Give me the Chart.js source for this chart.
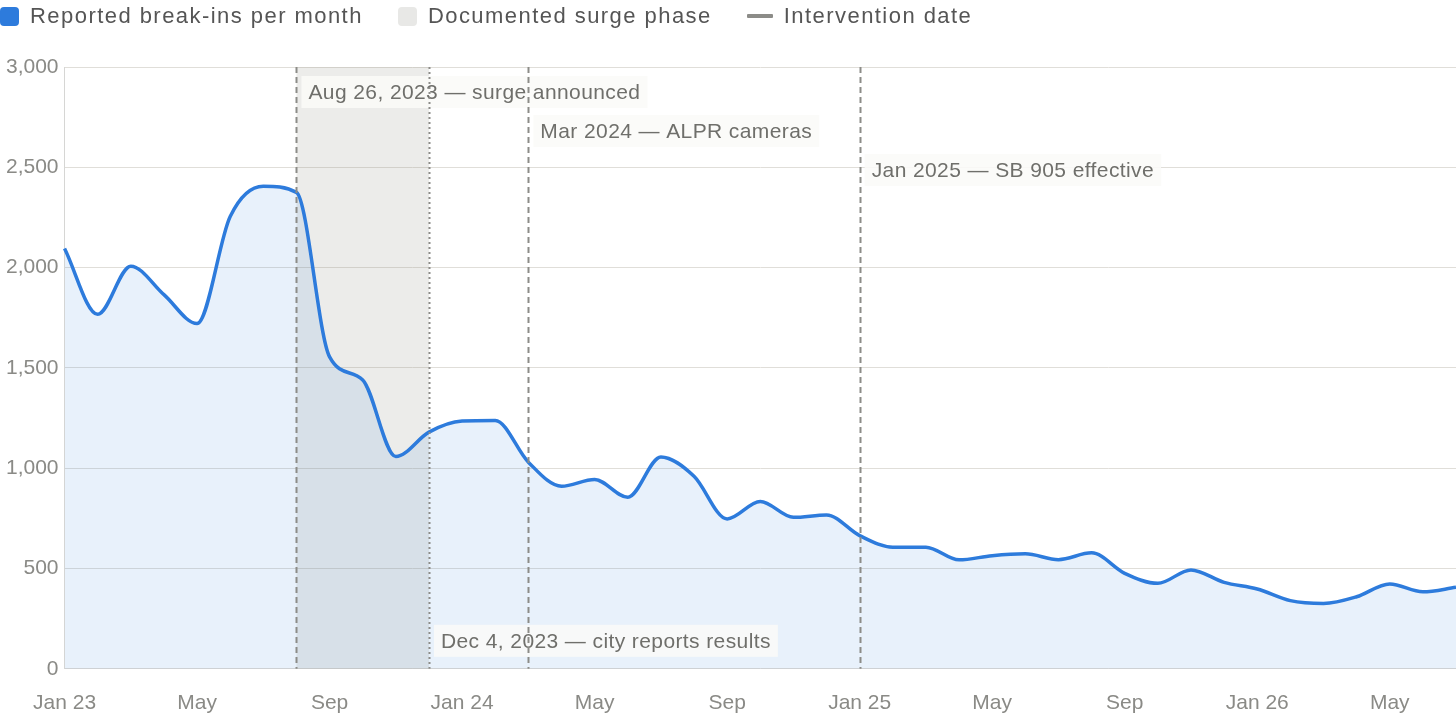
<!DOCTYPE html>
<html>
<head>
<meta charset="utf-8">
<script src="https://cdn.jsdelivr.net/npm/chart.js@4.4.1/dist/chart.umd.min.js"></script>
<style>
  html, body { margin: 0; padding: 0; background: #fff; overflow: hidden; }
  body { width: 1456px; height: 722px; position: relative; font-family: "Liberation Sans", Arial, Helvetica, sans-serif; }
  #chart { position: absolute; left: 0; top: 0; width: 1456px; height: 722px; }
  #legend { position: absolute; left: 0; top: 0; height: 32px; display: flex; align-items: center; font-size: 22px; letter-spacing: 1.45px; color: #555; white-space: nowrap; }
  .item { display: flex; align-items: center; margin-right: 35px; }
  .sw { width: 19px; height: 19px; border-radius: 4px; margin-right: 11px; }
  .ln { width: 26px; height: 4px; margin-right: 11px; border-radius: 1px; }
</style>
</head>
<body>
<canvas id="chart" width="1456" height="722"></canvas>
<div id="legend"></div>
<script>
// monthly reported break-ins, Jan 2023 - Jul 2026
var months = [
  "Jan 23", "Feb 23", "Mar 23", "Apr 23", "May 23", "Jun 23", "Jul 23", "Aug 23", "Sep 23", "Oct 23", "Nov 23", "Dec 23",
  "Jan 24", "Feb 24", "Mar 24", "Apr 24", "May 24", "Jun 24", "Jul 24", "Aug 24", "Sep 24", "Oct 24", "Nov 24", "Dec 24",
  "Jan 25", "Feb 25", "Mar 25", "Apr 25", "May 25", "Jun 25", "Jul 25", "Aug 25", "Sep 25", "Oct 25", "Nov 25", "Dec 25",
  "Jan 26", "Feb 26", "Mar 26", "Apr 26", "May 26", "Jun 26", "Jul 26"
];
var breakIns = [
  2095, 1767, 2007, 1865, 1721, 2255, 2406, 2375, 1555, 1440, 1058, 1180,
  1235, 1238, 1030, 910, 944, 855, 1056, 960, 747, 834, 755, 767,
  664, 606, 606, 543, 564, 573, 544, 578, 476, 426, 493, 431,
  398, 340, 326, 359, 423, 384, 406
];
var tickLabels = ["Jan 23", "May", "Sep", "Jan 24", "May", "Sep", "Jan 25", "May", "Sep", "Jan 26", "May"];
var yTicks = [0, 500, 1000, 1500, 2000, 2500, 3000];

var surgeStart = "Aug 23";
var surgeEnd = "Dec 23";
var interventionMonths = ["Aug 23", "Mar 24", "Jan 25", "Dec 23"];
var interventionTexts = [
  "Aug 26, 2023 \u2014 surge announced",
  "Mar 2024 \u2014 ALPR cameras",
  "Jan 2025 \u2014 SB 905 effective",
  "Dec 4, 2023 \u2014 city reports results"
];

var BLUE = "rgb(45,123,220)";
var FONT = '"Liberation Sans", Arial, Helvetica, sans-serif';

// html legend
var legendItems = [
  { text: "Reported break-ins per month", cls: "sw", color: BLUE },
  { text: "Documented surge phase", cls: "sw", color: "#e8e8e6" },
  { text: "Intervention date", cls: "ln", color: "#8c8c88" }
];
var lg = document.getElementById("legend");
legendItems.forEach(function (it) {
  var d = document.createElement("div");
  d.className = "item";
  d.innerHTML = '<span class="' + it.cls + '" style="background:' + it.color + '"></span><span>' + it.text + '</span>';
  lg.appendChild(d);
});

// box + dashed lines + labels
var markers = {
  id: "markers",
  beforeDatasetsDraw: function (chart) {
    var ctx = chart.ctx, a = chart.chartArea, x = chart.scales.x;
    var x0 = x.getPixelForValue(months.indexOf(surgeStart));
    var x1 = x.getPixelForValue(months.indexOf(surgeEnd));
    ctx.save();
    ctx.fillStyle = "rgba(143,143,131,0.17)";
    ctx.fillRect(x0, a.top, x1 - x0, a.bottom - a.top);
    ctx.restore();
  },
  afterDatasetsDraw: function (chart) {
    var ctx = chart.ctx, a = chart.chartArea, x = chart.scales.x;
    var rowsY = [a.top + 25, a.top + 64, a.top + 103, a.bottom - 28];
    ctx.save();
    ctx.font = "21px " + FONT;
    ctx.letterSpacing = "0.4px";
    ctx.textBaseline = "middle";
    interventionMonths.forEach(function (m, i) {
      var px = x.getPixelForValue(months.indexOf(m));
      var w = ctx.measureText(interventionTexts[i]).width;
      var bx = px + 5, by = rowsY[i];
      ctx.fillStyle = "rgba(250,250,248,0.88)";
      ctx.fillRect(bx, by - 16, w + 14, 32);
      ctx.fillStyle = "#6f6f6b";
      ctx.fillText(interventionTexts[i], bx + 7, by + 1);
    });
    interventionMonths.forEach(function (m, i) {
      var px = Math.round(x.getPixelForValue(months.indexOf(m))) + 0.5;
      ctx.beginPath();
      ctx.strokeStyle = "#8c8c88";
      ctx.lineWidth = 2;
      ctx.setLineDash(m === "Dec 23" ? [2, 3] : [6, 4]);
      ctx.moveTo(px, a.top);
      ctx.lineTo(px, a.bottom);
      ctx.stroke();
    });
    ctx.restore();
  }
};

var ctx = document.getElementById("chart").getContext("2d");
var chart = new Chart(ctx, {
  type: "line",
  data: {
    labels: months,
    datasets: [{
      label: "Reported break-ins per month",
      data: breakIns,
      borderColor: BLUE,
      backgroundColor: "rgba(45,123,220,0.11)",
      borderWidth: 3.5,
      fill: "origin",
      pointRadius: 0,
      cubicInterpolationMode: "monotone"
    }]
  },
  options: {
    responsive: false,
    maintainAspectRatio: false,
    animation: false,
    // x tick padding also adds to the bottom gap, take it back here
    layout: { padding: { top: 67, right: 0, bottom: -16, left: 0 } },
    plugins: {
      legend: { display: false },
      tooltip: { enabled: false }
    },
    scales: {
      x: {
        grid: { display: false, drawTicks: false },
        border: { display: true, color: "#d6d6d4" },
        afterFit: function (s) { s.paddingRight = 0; },
        ticks: {
          autoSkip: false,
          maxRotation: 0,
          padding: 22,
          color: "#8a8a86",
          font: { family: FONT, size: 21 },
          callback: function (v, i) { return i % 4 === 0 ? tickLabels[i / 4] : ""; }
        }
      },
      y: {
        min: 0,
        max: 3000,
        afterBuildTicks: function (s) { s.ticks = yTicks.map(function (v) { return { value: v }; }); },
        grid: { color: "#e0ded9", drawTicks: false },
        border: { display: true, color: "#d6d6d4" },
        ticks: {
          padding: 6,
          color: "#8a8a86",
          font: { family: FONT, size: 21 },
          callback: function (v) { return v.toLocaleString("en-US"); }
        }
      }
    }
  },
  plugins: [markers]
});
</script>
</body>
</html>
